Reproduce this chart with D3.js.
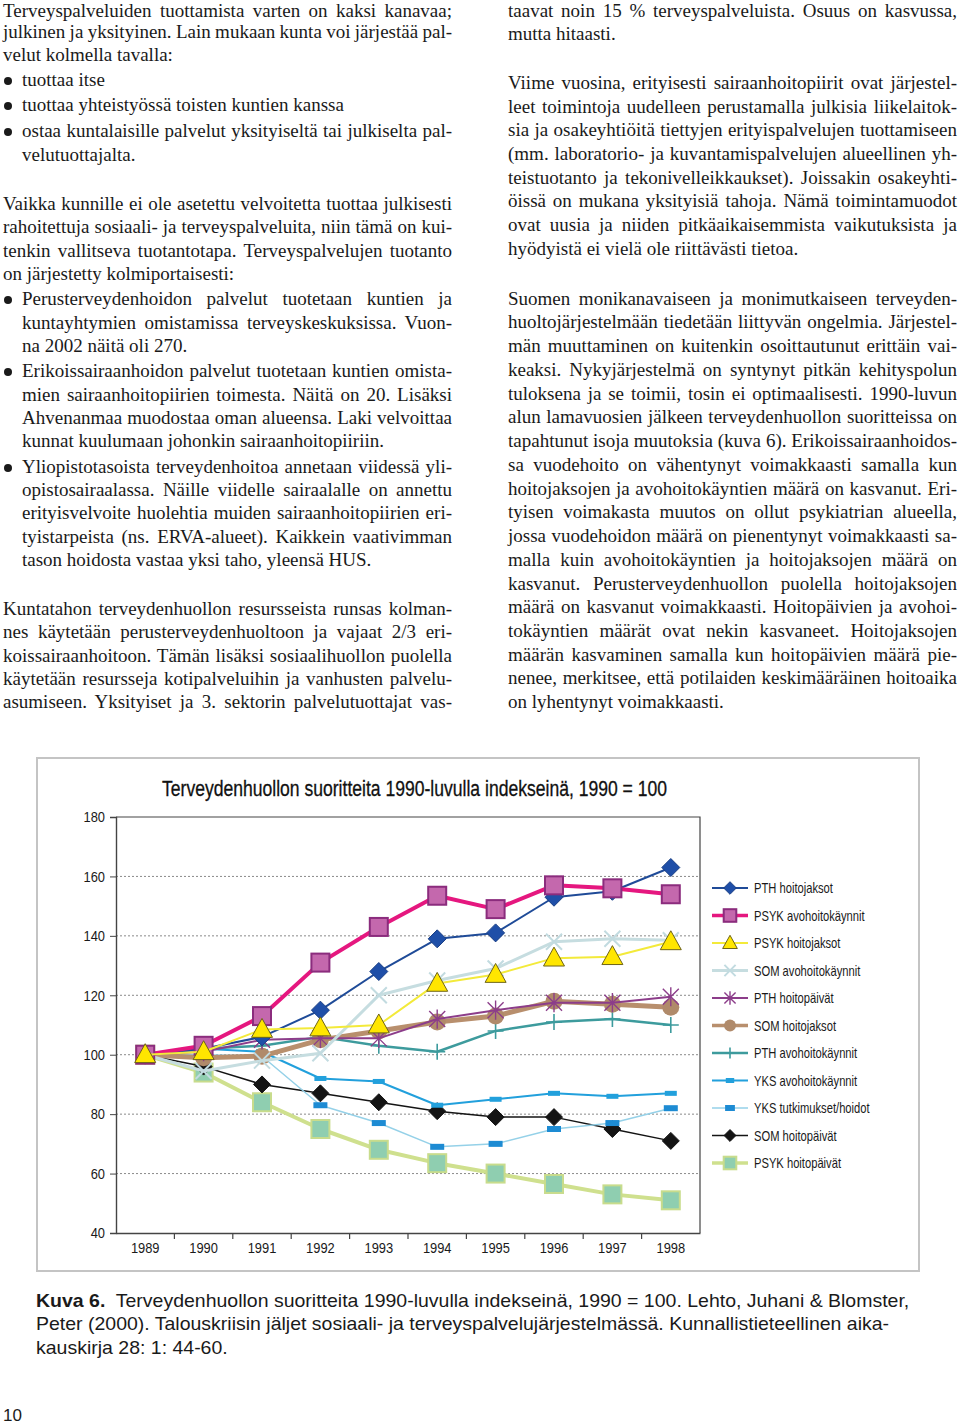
<!DOCTYPE html>
<html><head><meta charset="utf-8">
<script src="https://cdn.jsdelivr.net/npm/d3@7"></script>
<style>body{margin:0;background:#fff}svg{display:block}</style>
</head><body><svg id="page" width="960" height="1425"></svg>
<script>
// ---------- chart data ----------
const years = [1989,1990,1991,1992,1993,1994,1995,1996,1997,1998];
const yTicks = [40,60,80,100,120,140,160,180];
const gridValues = [60,80,100,120,140,160];
const seriesNames = ["PTH hoitojaksot","PSYK avohoitokäynnit","PSYK hoitojaksot","SOM avohoitokäynnit","PTH hoitopäivät","SOM hoitojaksot","PTH avohoitokäynnit","YKS avohoitokäynnit","YKS tutkimukset/hoidot","SOM hoitopäivät","PSYK hoitopäivät"];
const pthHoitojaksot   = [100,102,106,115,128,139,141,153,155,163];
const psykAvohoito     = [100,103,113,131,143,153.5,149,157,156,154];
const psykHoitojaksot  = [100,101,108.5,109,110,124,127,132.5,133,138];
const somAvohoito      = [100,94.5,98,100.5,120,125,129,138,139,138.5];
const pthHoitopaivat   = [100,101,105,105.5,105.5,112,115,117.5,117.5,119.5];
const somHoitojaksot   = [100,99,99.5,105,108,111,113,118,117,116];
const pthAvohoito      = [100,102,103,106,103,101,108,111,112,110];
const yksAvohoito      = [100,102,101,92,91,83,85,87,86,87];
const yksTutkimukset   = [100,100,99.5,83,77,69,70,75,77,82];
const somHoitopaivat   = [100,96,90,87,84,81,79,79,75,71];
const psykHoitopaivat  = [100,94,84,75,68,63.5,60,56.5,53,51];
const seriesValues = [pthHoitojaksot,psykAvohoito,psykHoitojaksot,somAvohoito,pthHoitopaivat,somHoitojaksot,pthAvohoito,yksAvohoito,yksTutkimukset,somHoitopaivat,psykHoitopaivat];
const chartTitle = "Terveydenhuollon suoritteita 1990-luvulla indekseinä, 1990 = 100";

// styles per series (same order as names)
const styles = [
  {line:"#1f4b98", lw:2,   mk:"diamond", fill:"#1f4fa8", stroke:"#1a3f85", ms:9},
  {line:"#e5177f", lw:4,   mk:"square",  fill:"#c468ad", stroke:"#8b2c7d", ms:9},
  {line:"#f3ea3a", lw:2,   mk:"triangle",fill:"#ffe600", stroke:"#6e6418", ms:10.5},
  {line:"#c6dde0", lw:3,   mk:"x",       fill:"none",    stroke:"#c2dbe0", ms:8},
  {line:"#8c3d8a", lw:2,   mk:"star",    fill:"none",    stroke:"#8c3d8a", ms:8},
  {line:"#b88f6d", lw:5,   mk:"circle",  fill:"#b08a6a", stroke:"#b08a6a", ms:8.5},
  {line:"#3d9b9d", lw:2.5, mk:"plus",    fill:"none",    stroke:"#3d9b9d", ms:8},
  {line:"#22a0dc", lw:2,   mk:"dash",    fill:"#22a0dc", stroke:"none",    ms:6},
  {line:"#95d1e8", lw:1.5, mk:"dash2",   fill:"#1d8bd3", stroke:"none",    ms:7},
  {line:"#141414", lw:1.5, mk:"diamond", fill:"#141414", stroke:"#141414", ms:8.5},
  {line:"#cfe08e", lw:4,   mk:"square",  fill:"#8fceb0", stroke:"#c8dc8c", ms:9}
];
const drawOrder = [10,9,8,7,6,5,4,3,0,1,2];

// ---------- page text ----------
const leftLines = [
 {y:11, t:"Terveyspalveluiden tuottamista varten on kaksi kanavaa;", j:1},
 {y:32, t:"julkinen ja yksityinen. Lain mukaan kunta voi järjestää pal-", j:1},
 {y:55, t:"velut kolmella tavalla:"},
 {y:80, t:"tuottaa itse", b:1},
 {y:105,t:"tuottaa yhteistyössä toisten kuntien kanssa", b:1},
 {y:131,t:"ostaa kuntalaisille palvelut yksityiseltä tai julkiselta pal-", b:1, j:1},
 {y:155,t:"velutuottajalta.", i:1},
 {y:204,t:"Vaikka kunnille ei ole asetettu velvoitetta tuottaa julkisesti", j:1},
 {y:227,t:"rahoitettuja sosiaali- ja terveyspalveluita, niin tämä on kui-", j:1},
 {y:251,t:"tenkin vallitseva tuotantotapa. Terveyspalvelujen tuotanto", j:1},
 {y:274,t:"on järjestetty kolmiportaisesti:"},
 {y:299,t:"Perusterveydenhoidon palvelut tuotetaan kuntien ja", b:1, j:1},
 {y:323,t:"kuntayhtymien omistamissa terveyskeskuksissa. Vuon-", i:1, j:1},
 {y:346,t:"na 2002 näitä oli 270.", i:1},
 {y:371,t:"Erikoissairaanhoidon palvelut tuotetaan kuntien omista-", b:1, j:1},
 {y:395,t:"mien sairaanhoitopiirien toimesta. Näitä on 20. Lisäksi", i:1, j:1},
 {y:418,t:"Ahvenanmaa muodostaa oman alueensa. Laki velvoittaa", i:1, j:1},
 {y:441,t:"kunnat kuulumaan johonkin sairaanhoitopiiriin.", i:1},
 {y:467,t:"Yliopistotasoista terveydenhoitoa annetaan viidessä yli-", b:1, j:1},
 {y:490,t:"opistosairaalassa. Näille viidelle sairaalalle on annettu", i:1, j:1},
 {y:513,t:"erityisvelvoite huolehtia muiden sairaanhoitopiirien eri-", i:1, j:1},
 {y:537,t:"tyistarpeista (ns. ERVA-alueet). Kaikkein vaativimman", i:1, j:1},
 {y:560,t:"tason hoidosta vastaa yksi taho, yleensä HUS.", i:1},
 {y:609,t:"Kuntatahon terveydenhuollon resursseista runsas kolman-", j:1},
 {y:632,t:"nes käytetään perusterveydenhuoltoon ja vajaat 2/3 eri-", j:1},
 {y:656,t:"koissairaanhoitoon. Tämän lisäksi sosiaalihuollon puolella", j:1},
 {y:679,t:"käytetään resursseja kotipalveluihin ja vanhusten palvelu-", j:1},
 {y:702,t:"asumiseen. Yksityiset ja 3. sektorin palvelutuottajat vas-", j:1}
];
const rightLines = [
 {y:11, t:"taavat noin 15 % terveyspalveluista. Osuus on kasvussa,", j:1},
 {y:34, t:"mutta hitaasti."},
 {y:83, t:"Viime vuosina, erityisesti sairaanhoitopiirit ovat järjestel-", j:1},
 {y:107,t:"leet toimintoja uudelleen perustamalla julkisia liikelaitok-", j:1},
 {y:130,t:"sia ja osakeyhtiöitä tiettyjen erityispalvelujen tuottamiseen", j:1},
 {y:154,t:"(mm. laboratorio- ja kuvantamispalvelujen alueellinen yh-", j:1},
 {y:178,t:"teistuotanto ja tekonivelleikkaukset). Joissakin osakeyhti-", j:1},
 {y:201,t:"öissä on mukana yksityisiä tahoja. Nämä toimintamuodot", j:1},
 {y:225,t:"ovat uusia ja niiden pitkäaikaisemmista vaikutuksista ja", j:1},
 {y:249,t:"hyödyistä ei vielä ole riittävästi tietoa."},
 {y:299,t:"Suomen monikanavaiseen ja monimutkaiseen terveyden-", j:1},
 {y:322,t:"huoltojärjestelmään tiedetään liittyvän ongelmia. Järjestel-", j:1},
 {y:346,t:"män muuttaminen on kuitenkin osoittautunut erittäin vai-", j:1},
 {y:370,t:"keaksi. Nykyjärjestelmä on syntynyt pitkän kehityspolun", j:1},
 {y:394,t:"tuloksena ja se toimii, tosin ei optimaalisesti. 1990-luvun", j:1},
 {y:417,t:"alun lamavuosien jälkeen terveydenhuollon suoritteissa on", j:1},
 {y:441,t:"tapahtunut isoja muutoksia (kuva 6). Erikoissairaanhoidos-", j:1},
 {y:465,t:"sa vuodehoito on vähentynyt voimakkaasti samalla kun", j:1},
 {y:489,t:"hoitojaksojen ja avohoitokäyntien määrä on kasvanut. Eri-", j:1},
 {y:512,t:"tyisen voimakasta muutos on ollut psykiatrian alueella,", j:1},
 {y:536,t:"jossa vuodehoidon määrä on pienentynyt voimakkaasti sa-", j:1},
 {y:560,t:"malla kuin avohoitokäyntien ja hoitojaksojen määrä on", j:1},
 {y:584,t:"kasvanut. Perusterveydenhuollon puolella hoitojaksojen", j:1},
 {y:607,t:"määrä on kasvanut voimakkaasti. Hoitopäivien ja avohoi-", j:1},
 {y:631,t:"tokäyntien määrät ovat nekin kasvaneet. Hoitojaksojen", j:1},
 {y:655,t:"määrän kasvaminen samalla kun hoitopäivien määrä pie-", j:1},
 {y:678,t:"nenee, merkitsee, että potilaiden keskimääräinen hoitoaika", j:1},
 {y:702,t:"on lyhentynyt voimakkaasti."}
];
const captionLines = [
 ["Kuva 6.", "  Terveydenhuollon suoritteita 1990-luvulla indekseinä, 1990 = 100. Lehto, Juhani & Blomster,"],
 ["", "Peter (2000). Talouskriisin jäljet sosiaali- ja terveyspalvelujärjestelmässä. Kunnallistieteellinen aika-"],
 ["", "kauskirja 28: 1: 44-60."]
];
const pageNumber = "10";

// ---------- drawing ----------
const svg = d3.select("#page");
svg.append("rect").attr("width",960).attr("height",1425).attr("fill","#fff");

function drawColumn(lines, x0, x1){
  const g = svg.append("g").attr("font-family","'Liberation Serif','Times New Roman',serif")
    .attr("font-size",19).attr("fill","#1a1a1a");
  lines.forEach(l=>{
    const tx = x0 + ((l.b||l.i) ? 19 : 0);
    if (l.b) g.append("circle").attr("cx",x0+5).attr("cy",l.y+1).attr("r",4).attr("fill","#1a1a1a");
    const t = g.append("text").attr("x",tx).attr("y",l.y+6).attr("xml:space","preserve").text(l.t);
    if (l.j){
      const w = t.node().getComputedTextLength();
      const n = (l.t.match(/ /g)||[]).length;
      if (n) t.attr("word-spacing",((x1-tx)-w)/n);
    }
  });
}
drawColumn(leftLines, 3, 452);
drawColumn(rightLines, 508, 957);

// chart frame
svg.append("rect").attr("x",37).attr("y",758).attr("width",882).attr("height",513)
  .attr("fill","none").attr("stroke","#c4c4c4").attr("stroke-width",2);

// title
svg.append("text").attr("x",162).attr("y",796).attr("font-family","'Liberation Sans',Arial,sans-serif")
  .attr("font-size",21.5).attr("fill","#111").attr("stroke","#111").attr("stroke-width",0.3)
  .attr("textLength",505).attr("lengthAdjust","spacingAndGlyphs")
  .text(chartTitle);

const plot = {l:116, r:700, t:817, b:1233};
const x = d3.scaleBand().domain(years).range([plot.l, plot.r]).paddingInner(0).paddingOuter(0);
const y = d3.scaleLinear().domain([40,180]).range([plot.b, plot.t]);
const px = d => x(d) + x.bandwidth()/2;

// gridlines
svg.append("g").selectAll("line").data(gridValues).join("line")
  .attr("x1",plot.l).attr("x2",plot.r).attr("y1",d=>y(d)).attr("y2",d=>y(d))
  .attr("stroke","#8a8a8a").attr("stroke-width",1).attr("stroke-dasharray","2,2");

// plot border (top & right)
svg.append("path").attr("d",`M${plot.l},${plot.t}H${plot.r}V${plot.b}`)
  .attr("fill","none").attr("stroke","#444").attr("stroke-width",1.2);

const condensed = 0.86;
// y axis
const yAxis = svg.append("g").attr("transform",`translate(${plot.l},0)`)
  .call(d3.axisLeft(y).tickValues(yTicks).tickSize(6).tickPadding(5));
yAxis.select(".domain").attr("stroke","#444").attr("stroke-width",1.4);
yAxis.selectAll(".tick line").attr("stroke","#444");
yAxis.selectAll(".tick text").attr("font-family","'Liberation Sans',Arial,sans-serif")
  .attr("font-size",15).attr("fill","#1a1a1a")
  .each(function(){ const s=d3.select(this); const xx=+s.attr("x"); s.attr("transform",`scale(${condensed},1)`).attr("x",xx/condensed);});

// x axis
const xAxis = svg.append("g").attr("transform",`translate(0,${plot.b})`)
  .call(d3.axisBottom(x).tickSize(0).tickPadding(9));
xAxis.select(".domain").attr("stroke","#444").attr("stroke-width",1.4);
xAxis.selectAll(".tick text").attr("font-family","'Liberation Sans',Arial,sans-serif")
  .attr("font-size",15).attr("fill","#1a1a1a").attr("transform",`scale(${condensed},1)`);
// band boundary ticks
svg.append("g").selectAll("line").data(years.slice(1)).join("line")
  .attr("x1",d=>x(d)).attr("x2",d=>x(d)).attr("y1",plot.b).attr("y2",plot.b+6)
  .attr("stroke","#444").attr("stroke-width",1.2);

function marker(g, type, s, st){
  switch(type){
    case "diamond": g.append("path").attr("d",`M0,${-s}L${s},0L0,${s}L${-s},0Z`).attr("fill",st.fill).attr("stroke",st.stroke).attr("stroke-width",1); break;
    case "square": g.append("rect").attr("x",-s).attr("y",-s).attr("width",2*s).attr("height",2*s).attr("fill",st.fill).attr("stroke",st.stroke).attr("stroke-width",2); break;
    case "triangle": g.append("path").attr("d",`M0,${-s*1.05}L${s},${s*0.75}L${-s},${s*0.75}Z`).attr("fill",st.fill).attr("stroke",st.stroke).attr("stroke-width",1); break;
    case "x": g.append("path").attr("d",`M${-s},${-s}L${s},${s}M${-s},${s}L${s},${-s}`).attr("stroke",st.stroke).attr("stroke-width",2); break;
    case "star": g.append("path").attr("d",`M${-s},${-s}L${s},${s}M${-s},${s}L${s},${-s}M0,${-s*1.2}L0,${s*1.2}`).attr("stroke",st.stroke).attr("stroke-width",1.4); break;
    case "circle": g.append("circle").attr("r",s).attr("fill",st.fill); break;
    case "plus": g.append("path").attr("d",`M${-s},0L${s},0M0,${-s}L0,${s}`).attr("stroke",st.stroke).attr("stroke-width",1.6); break;
    case "dash": g.append("rect").attr("x",-s).attr("y",-2.5).attr("width",2*s).attr("height",5).attr("fill",st.fill); break;
    case "dash2": g.append("rect").attr("x",-s).attr("y",-3).attr("width",2*s).attr("height",6).attr("fill",st.fill); break;
  }
}

const line = d3.line().x((d,i)=>px(years[i])).y(d=>y(d));
drawOrder.forEach(k=>{
  const st = styles[k];
  const g = svg.append("g");
  g.append("path").attr("d",line(seriesValues[k])).attr("fill","none")
    .attr("stroke",st.line).attr("stroke-width",st.lw).attr("stroke-linejoin","round");
  seriesValues[k].forEach((v,i)=>{
    const mg = g.append("g").attr("transform",`translate(${px(years[i])},${y(v)})`);
    marker(mg, st.mk, st.ms, st);
  });
});

// legend
const leg = svg.append("g");
seriesNames.forEach((name,i)=>{
  const st = styles[i];
  const ly = 888 + i*27.5;
  const g = leg.append("g").attr("transform",`translate(0,${ly})`);
  g.append("line").attr("x1",712).attr("x2",748).attr("stroke",st.line).attr("stroke-width",Math.min(st.lw,3.5));
  const mg = g.append("g").attr("transform","translate(730,0)");
  marker(mg, st.mk, st.ms*0.7, st);
  g.append("text").attr("x",754/0.8).attr("y",5).attr("transform","scale(0.8,1)")
    .attr("font-family","'Liberation Sans',Arial,sans-serif").attr("font-size",14).attr("fill","#1a1a1a").text(name);
});

// caption
const cap = svg.append("g").attr("font-family","'Liberation Sans',Arial,sans-serif").attr("font-size",18).attr("fill","#1a1a1a");
const capTexts = captionLines.map((c,i)=>{
  const t = cap.append("text").attr("x",36).attr("y",1307+i*23.5).attr("xml:space","preserve");
  if (c[0]) t.append("tspan").attr("font-weight","bold").text(c[0]);
  t.append("tspan").text(c[1]);
  return t;
});
const w0 = capTexts[0].node().getComputedTextLength();
const sc = 874 / w0;
capTexts.forEach(t=>{ t.attr("transform",`scale(${sc},1)`).attr("x",36/sc); });

svg.append("text").attr("x",3).attr("y",1421).attr("font-family","'Liberation Sans',Arial,sans-serif")
  .attr("font-size",17).attr("fill","#1a1a1a").text(pageNumber);
</script></body></html>
